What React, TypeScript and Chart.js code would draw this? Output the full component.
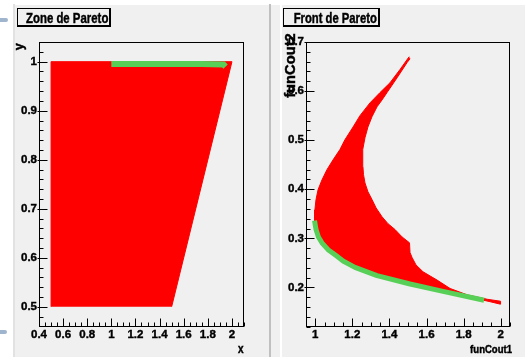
import React, { useEffect, useRef } from 'react';
import { Chart, registerables } from 'chart.js';

Chart.register(...registerables);

// ---------- Left pad: "Zone de Pareto" (decision space) ----------
const zoneX = [0.5, 0.5, 2.0, 1.5];
const zoneY = [0.5, 1.0, 1.0, 0.5];
const zoneParetoX = [1.0, 1.25, 1.5, 1.75, 1.93, 1.947];
const zoneParetoY = [0.9953, 0.9955, 0.9953, 0.9955, 0.9945, 0.99];

// ---------- Right pad: "Front de Pareto" (objective space) ----------
const frontRegionX = [
  1.506, 1.457, 1.403, 1.349, 1.295, 1.241, 1.204, 1.16, 1.133, 1.096, 1.063, 1.036, 1.015, 1.004, 0.998, 0.996,
  1.004, 1.017, 1.036, 1.069, 1.112, 1.15, 1.214, 1.333, 1.511, 1.689, 1.873, 1.943, 1.998,
  1.999, 1.927, 1.819, 1.727, 1.657, 1.581, 1.543, 1.522, 1.511, 1.508, 1.468, 1.43, 1.392, 1.36, 1.328, 1.306,
  1.284, 1.268, 1.26, 1.257, 1.255, 1.257, 1.268, 1.284, 1.306, 1.333, 1.36, 1.387, 1.441, 1.495, 1.511,
];
const frontRegionY = [
  0.67, 0.644, 0.617, 0.597, 0.576, 0.55, 0.527, 0.501, 0.481, 0.46, 0.44, 0.419, 0.399, 0.379, 0.358, 0.336,
  0.318, 0.303, 0.291, 0.277, 0.265, 0.254, 0.241, 0.224, 0.207, 0.192, 0.177, 0.171, 0.166,
  0.172, 0.176, 0.185, 0.198, 0.215, 0.232, 0.246, 0.261, 0.271, 0.291, 0.303, 0.318, 0.33, 0.344, 0.362, 0.379,
  0.395, 0.413, 0.43, 0.446, 0.46, 0.481, 0.505, 0.527, 0.548, 0.568, 0.582, 0.597, 0.627, 0.658, 0.666,
];
const frontParetoX = [0.996, 1.004, 1.017, 1.036, 1.069, 1.112, 1.15, 1.214, 1.333, 1.511, 1.689, 1.873, 1.91];
const frontParetoY = [0.336, 0.318, 0.303, 0.291, 0.277, 0.265, 0.254, 0.241, 0.224, 0.207, 0.192, 0.177, 0.174];

// ---------- Tick labels ----------
const zoneXTicks = [0.4, 0.6, 0.8, 1, 1.2, 1.4, 1.6, 1.8, 2];
const zoneYTicks = [0.5, 0.6, 0.7, 0.8, 0.9, 1];
const frontXTicks = [1, 1.2, 1.4, 1.6, 1.8, 2];
const frontYTicks = [0.2, 0.3, 0.4, 0.5, 0.6, 0.7];

const RED = '#ff0000';
const GREEN = '#58d058';
const PAD_BG = '#f0f0f0';
const LABEL_FAMILY = '"Liberation Sans Narrow", "Liberation Sans", Arial, sans-serif';
const TEXT_FAMILY = '"Liberation Sans", Arial, sans-serif';

type TextSpec = { text: string; x: number; y: number; size: number; sx: number; align: CanvasTextAlign; rotate?: boolean };

function drawText(ctx: CanvasRenderingContext2D, t: TextSpec) {
  ctx.save();
  ctx.translate(t.x, t.y);
  if (t.rotate) ctx.rotate(-Math.PI / 2);
  ctx.scale(t.sx, 1);
  ctx.font = `bold ${t.size}px ${TEXT_FAMILY}`;
  ctx.textAlign = t.align;
  ctx.textBaseline = 'alphabetic';
  ctx.fillStyle = '#000';
  ctx.strokeStyle = '#000';
  ctx.lineWidth = 0.45;
  ctx.fillText(t.text, 0, 0);
  ctx.strokeText(t.text, 0, 0);
  ctx.restore();
}

const rootPad = {
  id: 'rootPad',
  beforeDraw(chart: any) {
    const { ctx, width, height } = chart;
    ctx.save();
    ctx.fillStyle = PAD_BG;
    ctx.fillRect(0, 0, width, height);
    ctx.restore();
  },
  afterDraw(chart: any, _args: any, o: any) {
    const { ctx, chartArea: a } = chart;
    const xs = chart.scales.x;
    const ys = chart.scales.y;
    ctx.save();
    ctx.strokeStyle = '#000';
    ctx.lineWidth = 1;
    const L = Math.round(a.left) + 0.5;
    const R = Math.round(a.right) - 0.5;
    const T = Math.round(a.top) + 0.5;
    const B = Math.round(a.bottom) - 0.5;
    ctx.strokeRect(L, T, R - L, B - T);

    const ticks = (scale: any, step: number, major: number, horizontal: boolean) => {
      const s = Math.ceil(scale.min / step - 1e-6);
      const e = Math.floor(scale.max / step + 1e-6);
      for (let i = s; i <= e; i++) {
        const v = i * step;
        const r = v / major;
        const isMajor = Math.abs(r - Math.round(r)) < 1e-6;
        const len = isMajor ? 8 : 4;
        const p = Math.round(scale.getPixelForValue(v)) + 0.5;
        ctx.beginPath();
        if (horizontal) {
          ctx.moveTo(p, B);
          ctx.lineTo(p, B - len);
        } else {
          ctx.moveTo(L - (isMajor ? 2 : 0), p);
          ctx.lineTo(L + len, p);
        }
        ctx.stroke();
      }
    };
    ticks(xs, o.xStep, o.xMajor, true);
    ticks(ys, o.yStep, o.yMajor, false);

    // title box
    const b = o.box;
    ctx.fillStyle = '#000';
    ctx.fillRect(b.x, b.y, b.w, 1);
    ctx.fillRect(b.x, b.y, 1, b.h);
    ctx.fillRect(b.x + b.w - 2, b.y, 2, b.h);
    ctx.fillRect(b.x, b.y + b.h - 2, b.w, 2);
    ctx.restore();

    for (const t of o.texts as TextSpec[]) drawText(ctx, t);
  },
};

const fmt = (v: any) => String(Math.round(Number(v) * 100) / 100);

function makeScales(xMin: number, xMax: number, yMin: number, yMax: number, xT: number[], yT: number[]) {
  const font = { family: LABEL_FAMILY, size: 11.5, weight: 'bold' as const };
  const common = { font, color: '#000', textStrokeColor: '#000', textStrokeWidth: 0.4, autoSkip: false, callback: fmt };
  return {
    x: {
      type: 'linear' as const,
      min: xMin,
      max: xMax,
      afterBuildTicks: (s: any) => {
        s.ticks = xT.map((v) => ({ value: v }));
      },
      afterFit: (s: any) => {
        s.height = 30;
      },
      grid: { display: false, drawTicks: false },
      border: { display: false },
      ticks: { ...common, padding: 1, maxRotation: 0 },
    },
    y: {
      type: 'linear' as const,
      min: yMin,
      max: yMax,
      afterBuildTicks: (s: any) => {
        s.ticks = yT.map((v) => ({ value: v }));
      },
      afterFit: (s: any) => {
        s.width = 24;
      },
      grid: { display: false, drawTicks: false },
      border: { display: false },
      ticks: { ...common, padding: 2 },
    },
  };
}

const pts = (xs: number[], ys: number[]) => xs.map((x, i) => ({ x, y: ys[i] }));

function zoneConfig(): any {
  return {
    type: 'line',
    data: {
      datasets: [
        {
          data: pts(zoneParetoX, zoneParetoY),
          borderColor: GREEN,
          borderWidth: 6,
          borderCapStyle: 'butt',
          pointRadius: 0,
          fill: false,
          tension: 0,
        },
        {
          data: pts(zoneX, zoneY),
          borderColor: RED,
          backgroundColor: RED,
          borderWidth: 1,
          pointRadius: 0,
          fill: 'shape',
          tension: 0,
        },
      ],
    },
    options: {
      animation: false,
      responsive: false,
      devicePixelRatio: 1,
      events: [],
      layout: { padding: { left: 0, top: 37, right: 25, bottom: 0 } },
      plugins: {
        legend: { display: false },
        tooltip: { enabled: false },
        rootPad: {
          xStep: 0.05,
          xMajor: 0.2,
          yStep: 0.02,
          yMajor: 0.1,
          box: { x: 2, y: 3, w: 94, h: 19 },
          texts: [
            { text: 'Zone de Pareto', x: 11, y: 18, size: 15, sx: 0.76, align: 'left' },
            { text: 'x', x: 228.5, y: 347.5, size: 12.5, sx: 0.8, align: 'right' },
            { text: 'y', x: 7.5, y: 38.3, size: 12.5, sx: 1, align: 'right', rotate: true },
          ],
        },
      },
      scales: makeScales(0.4, 2.1, 0.4586, 1.0402, zoneXTicks, zoneYTicks),
    },
    plugins: [rootPad],
  };
}

function frontConfig(): any {
  return {
    type: 'line',
    data: {
      datasets: [
        {
          data: pts(frontParetoX, frontParetoY),
          borderColor: GREEN,
          borderWidth: 5,
          borderCapStyle: 'butt',
          borderJoinStyle: 'round',
          pointRadius: 0,
          fill: false,
          tension: 0,
        },
        {
          data: pts(frontRegionX, frontRegionY),
          borderColor: RED,
          backgroundColor: RED,
          borderWidth: 1,
          pointRadius: 0,
          fill: 'shape',
          tension: 0,
        },
      ],
    },
    options: {
      animation: false,
      responsive: false,
      devicePixelRatio: 1,
      events: [],
      layout: { padding: { left: 0, top: 37, right: 15, bottom: 0 } },
      plugins: {
        legend: { display: false },
        tooltip: { enabled: false },
        rootPad: {
          xStep: 0.05,
          xMajor: 0.2,
          yStep: 0.02,
          yMajor: 0.1,
          box: { x: 1, y: 3, w: 97, h: 19 },
          texts: [
            { text: 'Front de Pareto', x: 11.7, y: 18, size: 15, sx: 0.75, align: 'left' },
            { text: 'funCout1', x: 230, y: 347.7, size: 11.5, sx: 0.83, align: 'right' },
            { text: 'funCout2', x: 13.3, y: 28.3, size: 14, sx: 1.05, align: 'right', rotate: true },
          ],
        },
      },
      scales: makeScales(0.95, 2.05, 0.1195, 0.7, frontXTicks, frontYTicks),
    },
    plugins: [rootPad],
  };
}

export default function App() {
  const leftRef = useRef<HTMLCanvasElement>(null);
  const rightRef = useRef<HTMLCanvasElement>(null);

  useEffect(() => {
    const c1 = new Chart(leftRef.current as HTMLCanvasElement, zoneConfig());
    const c2 = new Chart(rightRef.current as HTMLCanvasElement, frontConfig());
    return () => {
      c1.destroy();
      c2.destroy();
    };
  }, []);

  const abs = (l: number, t: number, w: number, h: number, bg: string, extra: any = {}) => ({
    position: 'absolute' as const,
    left: l,
    top: t,
    width: w,
    height: h,
    background: bg,
    ...extra,
  });

  return (
    <div style={{ position: 'fixed', left: 0, top: 0, width: 525, height: 357, background: '#fff', overflow: 'hidden' }}>
      <div style={abs(0, 18, 8, 4, '#9fb5cd', { borderRadius: '0 2px 2px 0' })} />
      <div style={abs(0, 330, 7, 4, '#9fb5cd', { borderRadius: '0 2px 2px 0' })} />
      <div style={abs(13, 4, 2, 353, '#e2e2e2')} />
      <div style={abs(269, 4, 2, 353, '#c0c0c0')} />
      <div style={abs(271, 5, 9, 352, PAD_BG)} />
      <canvas
        ref={leftRef}
        width={254}
        height={352}
        style={{ position: 'absolute', left: 15, top: 5, width: 254, height: 352 }}
      />
      <canvas
        ref={rightRef}
        width={243}
        height={352}
        style={{ position: 'absolute', left: 282, top: 5, width: 243, height: 352 }}
      />
    </div>
  );
}
